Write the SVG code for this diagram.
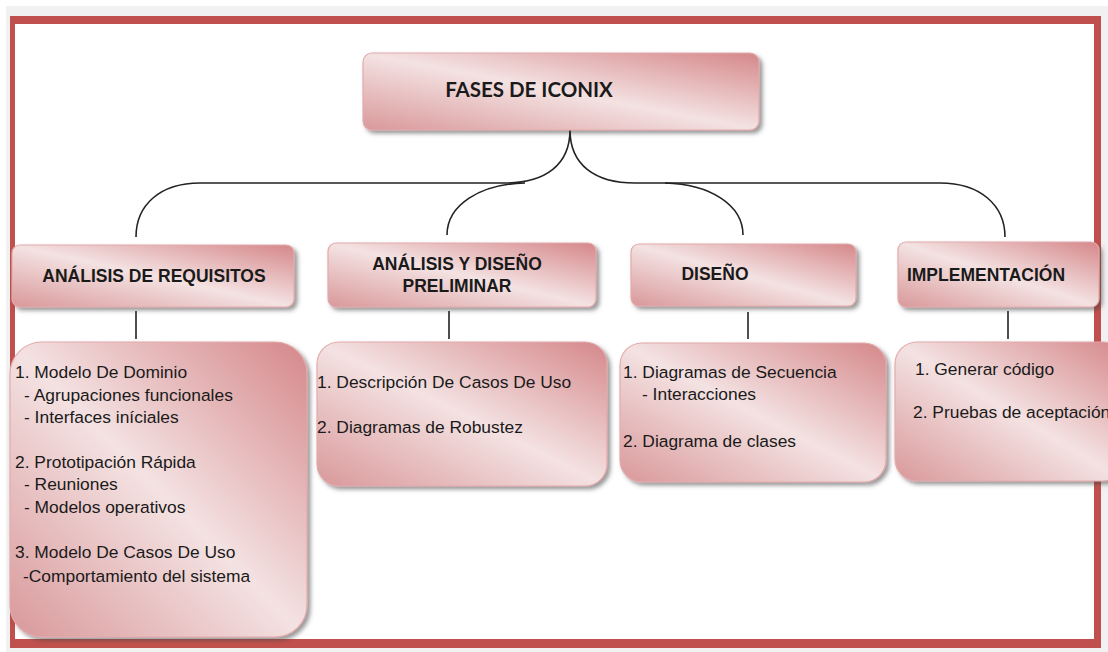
<svg xmlns="http://www.w3.org/2000/svg" width="1108" height="652" viewBox="0 0 1108 652">
<defs>
<linearGradient id="g" x1="1" y1="0" x2="0" y2="1">
<stop offset="0" stop-color="#d5878a"/>
<stop offset="0.5" stop-color="#f4e2e2"/>
<stop offset="1" stop-color="#d9989a"/>
</linearGradient>
<filter id="sh" x="-10%" y="-10%" width="130%" height="130%">
<feDropShadow dx="3" dy="3" stdDeviation="2" flood-color="#444" flood-opacity="0.55"/>
</filter>
<style>
.box{fill:url(#g);stroke:#e3aaab;stroke-width:1.2;filter:url(#sh)}
.hd{font-family:"Liberation Sans",Arial,sans-serif;font-weight:bold;font-size:17.5px;fill:#1a1a1a;text-anchor:middle}
.tx{font-family:"Liberation Sans",Arial,sans-serif;font-size:17.4px;fill:#1a1a1a}
.ln{fill:none;stroke:#222;stroke-width:1.6}
</style>
</defs>
<rect x="0" y="0" width="1108" height="652" fill="#ffffff"/>
<rect x="6" y="6" width="1102" height="646" fill="#f1f1f1"/>
<path d="M10,16 H1101 V648 H10 Z M15,24 V639 H1094 V24 Z" fill="#c0504d" fill-rule="evenodd"/>
<rect x="15" y="24" width="1079" height="615" fill="#ffffff"/>

<g id="connectors">
<path class="ln" d="M570,130 C570,165 545,183 505,183 L200,183 C160,183 136,205 136,237"/>
<path class="ln" d="M525,183 C480,184 447,205 447,235"/>
<path class="ln" d="M570,130 C570,165 595,183 635,183 L940,183 C980,183 1005,205 1005,237"/>
<path class="ln" d="M665,183 C710,184 743,205 743,235"/>
<line class="ln" x1="136" y1="311" x2="136" y2="339"/>
<line class="ln" x1="449" y1="311" x2="449" y2="339"/>
<line class="ln" x1="748" y1="312" x2="748" y2="339"/>
<line class="ln" x1="1008" y1="311" x2="1008" y2="339"/>
</g>

<g id="root">
<rect class="box" x="363" y="53" width="396" height="77" rx="9"/>
<text x="529" y="97" style="font-family:Lato,'Open Sans',sans-serif;font-weight:bold;font-size:20.5px;fill:#1a1a1a;text-anchor:middle">FASES DE ICONIX</text>
</g>

<g id="h1">
<rect class="box" x="12" y="245" width="282" height="62" rx="8"/>
<text class="hd" x="154" y="282">ANÁLISIS DE REQUISITOS</text>
</g>
<g id="h2">
<rect class="box" x="328" y="243" width="268" height="64" rx="8"/>
<text class="hd" x="457" y="270">ANÁLISIS Y DISEÑO</text>
<text class="hd" x="457" y="292">PRELIMINAR</text>
</g>
<g id="h3">
<rect class="box" x="631" y="244" width="225" height="62" rx="8"/>
<text class="hd" x="715" y="280">DISEÑO</text>
</g>
<g id="h4">
<rect class="box" x="898" y="242" width="201" height="65" rx="8"/>
<text class="hd" x="986" y="281">IMPLEMENTACIÓN</text>
</g>

<g id="b1">
<rect class="box" x="10" y="342" width="297" height="295" rx="32"/>
<text class="tx" x="15" y="378">1. Modelo De Dominio</text>
<text class="tx" x="24" y="401">- Agrupaciones funcionales</text>
<text class="tx" x="24" y="423">- Interfaces iníciales</text>
<text class="tx" x="15" y="468">2. Prototipación Rápida</text>
<text class="tx" x="24" y="490">- Reuniones</text>
<text class="tx" x="24" y="513">- Modelos operativos</text>
<text class="tx" x="15" y="558">3. Modelo De Casos De Uso</text>
<text class="tx" x="23" y="582">-Comportamiento del sistema</text>
</g>
<g id="b2">
<rect class="box" x="317" y="342" width="290" height="144" rx="22"/>
<text class="tx" x="317" y="388">1. Descripción De Casos De Uso</text>
<text class="tx" x="317" y="433">2. Diagramas de Robustez</text>
</g>
<g id="b3">
<rect class="box" x="620" y="343" width="266" height="139" rx="22"/>
<text class="tx" x="623" y="378">1. Diagramas de Secuencia</text>
<text class="tx" x="642" y="400">- Interacciones</text>
<text class="tx" x="623" y="447">2. Diagrama de clases</text>
</g>
<g id="b4">
<rect class="box" x="895" y="342" width="230" height="139" rx="22"/>
<text class="tx" x="915" y="375">1. Generar código</text>
<text class="tx" x="913" y="418">2. Pruebas de aceptación</text>
</g>
</svg>
